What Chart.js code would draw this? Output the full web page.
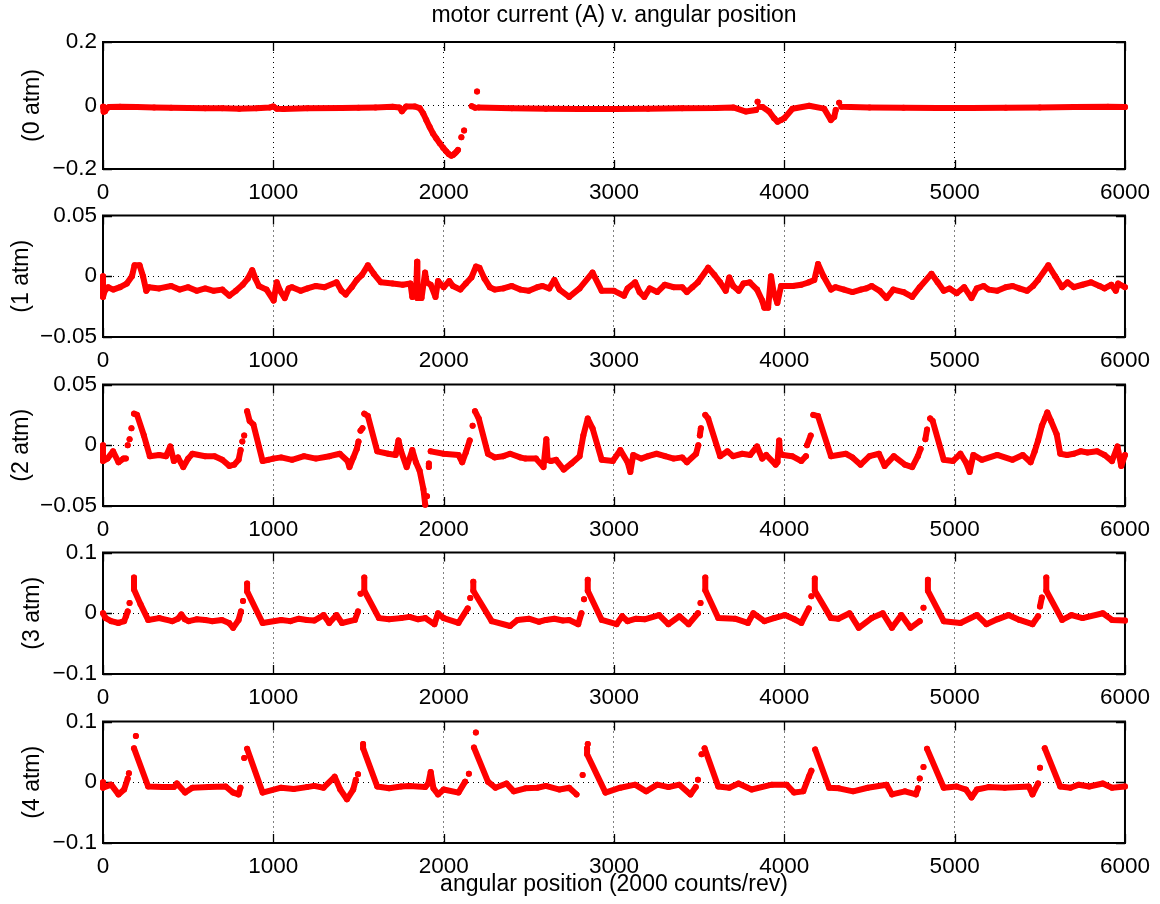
<!DOCTYPE html>
<html lang="en">
<head>
<meta charset="utf-8">
<title>motor current (A) v. angular position</title>
<script src="https://cdn.jsdelivr.net/npm/chart.js"></script>
<style>
  body { margin: 0; background: #fff; }
  #figure { position: relative; width: 1160px; height: 904px; overflow: hidden; }
  #figure canvas { position: absolute; left: 0; }
</style>
</head>
<body>
<div id="figure"></div>
<script>
// [position (counts), current (A)] readings per pressure; null = break in the trace
const trace0 = [
  [0, -0.004], [4, -0.02], [8, -0.006], [12, -0.018], [20, -0.01], [35, -0.005], [100, -0.004],
  [200, -0.005], [300, -0.006], [400, -0.007], [500, -0.008], [600, -0.009], [700, -0.009],
  [800, -0.01], [900, -0.009], [980, -0.006], [1000, -0.003], [1020, -0.01], [1060, -0.011],
  [1200, -0.009], [1400, -0.008], [1500, -0.007], [1600, -0.006], [1700, -0.004], [1740, -0.006],
  [1755, -0.018], [1780, -0.003], [1830, -0.003], [1859, -0.008], [1880, -0.025], [1898, -0.046],
  [1918, -0.068], [1937, -0.088], [1957, -0.104], [1977, -0.119], [1997, -0.133], [2016, -0.145],
  [2030, -0.153], [2045, -0.158], [2055, -0.156], [2065, -0.151], [2075, -0.146], [2084, -0.14],
  null, [2104, -0.1], null, [2120, -0.079], null,
  [2165, -0.002], [2185, -0.007], null, [2196, 0.044], null,
  [2205, -0.006], [2400, -0.009], [2600, -0.01], [2800, -0.011], [3000, -0.011], [3200, -0.01],
  [3400, -0.009], [3600, -0.008], [3700, -0.006], [3775, -0.019], [3834, -0.014], null,
  [3843, 0.012], null,
  [3855, -0.004], [3872, -0.005], [3911, -0.019], [3940, -0.04], [3960, -0.051], [3980, -0.046],
  [4000, -0.04], [4048, -0.01], [4146, -0.001], [4234, -0.01], [4273, -0.046], [4293, -0.036],
  [4302, -0.014], null, [4322, 0.009], null,
  [4335, -0.004], [4500, -0.006], [4700, -0.007], [4900, -0.008], [5100, -0.008], [5300, -0.007],
  [5500, -0.006], [5700, -0.005], [5900, -0.004], [6000, -0.005]
]

const trace1 = [
  [0, 0], [0, -0.017], [10, -0.012], [30, -0.009], [60, -0.011], [100, -0.009], [140, -0.006],
  [170, 0], [185, 0.009], [215, 0.009], [235, 0], [254, -0.012], [270, -0.009], [330, -0.01],
  [400, -0.008], [450, -0.011], [500, -0.009], [550, -0.012], [600, -0.01], [650, -0.012],
  [700, -0.011], [742, -0.016], [780, -0.012], [820, -0.007], [850, -0.002], [876, 0.005],
  [895, -0.002], [915, -0.008], [960, -0.011], [1002, -0.02], [1020, -0.005], [1040, -0.012],
  [1067, -0.018], [1090, -0.01], [1110, -0.009], [1160, -0.012], [1200, -0.01], [1250, -0.008],
  [1300, -0.009], [1371, -0.005],
  [1400, -0.012], [1425, -0.015], [1460, -0.009], [1490, -0.003], [1520, 0.001], [1555, 0.009],
  [1590, 0.002], [1631, -0.005], [1700, -0.006], [1760, -0.007], [1805, -0.006], [1816, -0.017],
  [1838, -0.016], [1844, 0.012], [1846, -0.018], [1870, -0.018], [1891, 0.003], [1900, -0.005],
  [1924, -0.007], [1952, -0.017], [1967, -0.004], [2000, -0.009], [2033, -0.004], [2054, -0.008],
  [2098, -0.011], [2130, -0.006], [2163, -0.001], [2190, 0.008], [2210, 0.007], [2240, -0.002],
  [2271, -0.009], [2300, -0.011], [2350, -0.01], [2400, -0.008], [2450, -0.011], [2500, -0.012],
  [2550, -0.009], [2580, -0.008], [2620, -0.01], [2650, -0.003],
  [2680, -0.011], [2737, -0.017], [2798, -0.01], [2874, 0.003], [2928, -0.012], [3000, -0.012],
  [3059, -0.016], [3080, -0.01], [3124, -0.005], [3150, -0.013], [3178, -0.017], [3210, -0.01],
  [3254, -0.013], [3298, -0.007], [3350, -0.009], [3400, -0.009], [3428, -0.013], [3460, -0.009],
  [3493, -0.005], [3553, 0.007], [3590, 0.001], [3623, -0.005], [3656, -0.012], [3677, -0.001],
  [3700, -0.008], [3732, -0.012], [3760, -0.006], [3797, -0.005], [3840, -0.011], [3870, -0.02],
  [3883, -0.026], [3905, -0.026], [3922, 0], [3937, -0.013], [3959, -0.022], [3981, -0.008],
  [4050, -0.008], [4100, -0.007], [4144, -0.005], [4176, -0.003], [4198, 0.01], [4230, 0],
  [4274, -0.011], [4300, -0.009], [4350, -0.011], [4400, -0.013], [4450, -0.011], [4480, -0.01],
  [4513, -0.008], [4560, -0.012], [4600, -0.018],
  [4640, -0.011], [4700, -0.013], [4751, -0.017], [4795, -0.009], [4864, 0.002], [4900, -0.005],
  [4936, -0.012], [4970, -0.01], [5012, -0.014], [5056, -0.009], [5099, -0.018], [5130, -0.01],
  [5170, -0.008], [5200, -0.011], [5250, -0.012], [5300, -0.009], [5340, -0.008], [5380, -0.01],
  [5425, -0.012], [5460, -0.008], [5490, -0.003],
  [5550, 0.009], [5590, 0], [5630, -0.009], [5663, -0.005], [5700, -0.009], [5750, -0.007],
  [5800, -0.005], [5850, -0.008], [5880, -0.01],
  [5920, -0.007], [5946, -0.012], [5960, -0.006], [6000, -0.009]
]

const trace2 = [
  [0, 0], [0, -0.013], [26, -0.011], [59, -0.005], [91, -0.014], [120, -0.011], [134, -0.011],
  null, [145, 0], null, [156, 0.005], null, [167, 0.014], null,
  [182, 0.026], [200, 0.025], [240, 0.008], [275, -0.009], [330, -0.008], [370, -0.009],
  [395, -0.001], [416, -0.013], [440, -0.01], [471, -0.018], [500, -0.011], [525, -0.007],
  [600, -0.009], [655, -0.009], [700, -0.012], [742, -0.017], [770, -0.016], [796, -0.012],
  [808, -0.004], null, [818, 0.003], null, [829, 0.008], null,
  [846, 0.028], [861, 0.02], [883, 0.017], [937, -0.013], [970, -0.012], [1000, -0.011],
  [1046, -0.01], [1110, -0.012], [1180, -0.009], [1250, -0.011], [1330, -0.009], [1390, -0.007],
  [1436, -0.013], [1447, -0.018], [1470, -0.01],
  [1490, -0.003], [1500, 0.003], null, [1512, 0.012], [1523, 0.014], null,
  [1534, 0.026], [1555, 0.024], [1610, -0.005], [1675, -0.007], [1718, -0.008], [1735, 0.004],
  [1750, -0.005], [1783, -0.018], [1816, -0.004], [1837, -0.014], [1859, -0.021], [1881, -0.036],
  [1892, -0.049], null, [1902, -0.042], null, [1913, -0.018], [1913, -0.015], null,
  [1924, -0.005], [2000, -0.007], [2087, -0.008], [2109, -0.014], [2130, -0.006], [2153, 0.004],
  null, [2170, 0.016], null,
  [2184, 0.028], [2206, 0.022], [2260, -0.007], [2300, -0.01], [2350, -0.009], [2390, -0.007],
  [2450, -0.01], [2480, -0.011], [2542, -0.011],
  [2586, -0.018], [2603, 0.005], [2610, -0.012], [2629, -0.013], [2660, -0.012], [2705, -0.02],
  [2750, -0.015], [2798, -0.009], [2820, 0.008], [2846, 0.022], [2874, 0.014], [2928, -0.012],
  [2993, -0.013], [3037, -0.004], [3080, -0.014], [3096, -0.022], [3113, -0.008], [3160, -0.011],
  [3200, -0.009], [3250, -0.007], [3300, -0.009], [3350, -0.011], [3400, -0.01], [3428, -0.014],
  [3482, -0.007], [3495, 0], null,
  [3504, 0.008], [3510, 0.014], null,
  [3536, 0.025], [3553, 0.022], [3623, -0.009], [3666, -0.005], [3700, -0.009], [3753, -0.007],
  [3800, -0.008], [3840, -0.001], [3870, -0.011], [3894, -0.008], [3949, -0.016], [3960, -0.014],
  [3970, 0.004], [3975, -0.006], [3992, -0.008], [4046, -0.009], [4100, -0.013], [4127, -0.009],
  null, [4133, 0], [4155, 0.008], null,
  [4170, 0.025], [4198, 0.024], [4274, -0.009], [4361, -0.007], [4400, -0.01], [4448, -0.016],
  [4500, -0.009], [4556, -0.007], [4589, -0.017], [4643, -0.009], [4708, -0.016], [4751, -0.018],
  [4784, -0.009], [4800, -0.003], null, [4828, 0.005], [4838, 0.013], null,
  [4856, 0.022], [4871, 0.02], [4936, -0.012], [4990, -0.013], [5034, -0.007], [5066, -0.014],
  [5088, -0.022], [5110, -0.008], [5160, -0.012], [5250, -0.008], [5340, -0.012], [5400, -0.008],
  [5446, -0.014],
  [5470, -0.005], [5490, 0.004], [5512, 0.016], [5530, 0.022], [5544, 0.027], [5566, 0.02],
  [5599, 0.009], [5620, -0.007], [5660, -0.008], [5700, -0.007], [5740, -0.005], [5780, -0.006],
  [5837, -0.005], [5880, -0.008],
  [5924, -0.013], [5956, -0.001], [5978, -0.017], [6000, -0.008]
]

const trace3 = [
  [0, 0], [15, -0.008], [48, -0.013], [91, -0.016], [124, -0.013], [135, -0.005], [145, 0.003],
  null, [156, 0.017], null,
  [182, 0.059], [182, 0.039], [220, 0.015], [265, -0.011], [330, -0.008], [406, -0.013],
  [440, -0.009], [460, -0.002], [480, -0.01], [503, -0.013], [550, -0.01], [600, -0.011],
  [640, -0.013], [698, -0.011],
  [740, -0.016], [764, -0.024], [796, -0.011], [810, 0.003], null, [822, 0.02], null,
  [846, 0.049], [846, 0.036], [937, -0.016], [1046, -0.011], [1100, -0.013], [1150, -0.009],
  [1197, -0.011], [1240, -0.012], [1295, -0.003],
  [1328, -0.016], [1371, -0.003], [1403, -0.016], [1479, -0.011], [1497, 0.003], null,
  [1512, 0.032], null,
  [1534, 0.059], [1534, 0.037], [1620, -0.008], [1680, -0.01], [1750, -0.008], [1800, -0.006],
  [1850, -0.01], [1892, -0.008], [1946, -0.018],
  [1967, 0], [2000, -0.008], [2087, -0.016], [2141, 0.008], null, [2156, 0.025], null,
  [2174, 0.052], [2174, 0.037], [2282, -0.013], [2390, -0.021], [2434, -0.011], [2500, -0.009],
  [2560, -0.014], [2600, -0.011], [2650, -0.009], [2700, -0.012],
  [2737, -0.011], [2790, -0.018], [2809, 0], null, [2824, 0.023], null,
  [2846, 0.055], [2846, 0.037], [2928, -0.011], [3015, -0.018], [3048, -0.005], [3080, -0.013],
  [3130, -0.009], [3180, -0.01], [3265, -0.003], [3319, -0.018], [3384, -0.005], [3438, -0.018],
  [3493, 0], null, [3508, 0.017], null,
  [3536, 0.059], [3536, 0.038], [3612, -0.008], [3710, -0.009], [3786, -0.016], [3818, 0],
  [3883, -0.013], [3940, -0.008], [4003, -0.003], [4060, -0.01], [4100, -0.016], [4144, 0.008],
  null, [4159, 0.028], null,
  [4179, 0.057], [4179, 0.037], [4274, -0.008], [4317, -0.009], [4383, 0], [4437, -0.024],
  [4513, -0.008], [4578, 0], [4632, -0.024], [4687, -0.003], [4741, -0.024], [4795, -0.013],
  null, [4817, 0.009], null,
  [4843, 0.055], [4843, 0.037], [4936, -0.013], [5034, -0.016], [5131, -0.003], [5186, -0.018],
  [5250, -0.01], [5316, -0.003], [5381, -0.011], [5457, -0.018], [5490, -0.005], null,
  [5501, 0.011], [5512, 0.026], null,
  [5538, 0.059], [5538, 0.037], [5631, -0.011], [5686, -0.003], [5751, -0.008], [5870, 0],
  [5924, -0.011], [6000, -0.012]
]

const trace4 = [
  [0, 0], [0, -0.009], [48, -0.004], [91, -0.02], [124, -0.012], [145, 0.006], null,
  [152, 0.015], null, [193, 0.076], null,
  [182, 0.056], [265, -0.007], [350, -0.008], [416, -0.008], [434, -0.002], [482, -0.017],
  [525, -0.009], [620, -0.008], [720, -0.007], [764, -0.017], [796, -0.02], [807, -0.009], null,
  [829, 0.04], null,
  [846, 0.055], [937, -0.017], [1046, -0.009], [1120, -0.011], [1197, -0.008], [1240, -0.006],
  [1295, -0.009], [1360, 0.009],
  [1393, -0.012], [1432, -0.028], [1469, -0.012], [1484, 0.004], null, [1497, 0.013], null,
  [1527, 0.063], [1527, 0.056], [1610, -0.007], [1680, -0.01], [1750, -0.007], [1800, -0.006],
  [1892, -0.008], [1910, -0.002],
  [1924, 0.017], [1940, -0.01], [1967, -0.02], [2000, -0.012], [2087, -0.017], [2126, 0.001],
  null, [2148, 0.014], null, [2189, 0.082], null,
  [2178, 0.057], [2260, 0.001], [2304, -0.009], [2369, -0.002], [2412, -0.015], [2480, -0.01],
  [2550, -0.009], [2600, -0.006], [2680, -0.012],
  [2737, -0.009], [2780, -0.02], null, [2816, 0.012], null, [2846, 0.063], null,
  [2842, 0.056], [2842, 0.046], [2950, -0.017], [3037, -0.009], [3124, -0.004], [3189, -0.015],
  [3254, -0.004], [3320, -0.008], [3384, -0.004], [3449, -0.02], [3480, -0.008], null,
  [3493, 0.004], null, [3514, 0.046], null,
  [3532, 0.056], [3612, -0.007], [3677, -0.009], [3731, -0.002], [3808, -0.012], [3927, -0.004],
  [4014, -0.004], [4057, -0.017], [4111, -0.015], [4144, 0.009], [4159, 0.019], null,
  [4181, 0.054], [4263, -0.009], [4320, -0.01], [4404, -0.015], [4490, -0.009], [4600, -0.004],
  [4632, -0.02],
  [4708, -0.015], [4773, -0.02], [4785, -0.01], null, [4795, 0.006], null, [4817, 0.025], null,
  [4838, 0.055], [4936, -0.009], [5012, -0.007], [5066, -0.012], [5099, -0.025], [5131, -0.012],
  [5200, -0.008], [5294, -0.009], [5435, -0.007], [5457, -0.02], [5490, -0.002], null,
  [5501, 0.024], null,
  [5529, 0.056], [5620, -0.007], [5680, -0.009], [5729, -0.004], [5790, -0.007], [5870, -0.002],
  [5924, -0.009], [6000, -0.007]
]

const traces = [trace0, trace1, trace2, trace3, trace4]
const pressureLabels = ['(0 atm)', '(1 atm)', '(2 atm)', '(3 atm)', '(4 atm)']
const yLimits = [0.2, 0.05, 0.05, 0.1, 0.1]
const xMin = 0
const xMax = 6000
const xStep = 1000
const figTitle = 'motor current (A) v. angular position'
const xLabel = 'angular position (2000 counts/rev)'

// page layout, px
const panelTops = [42, 210, 379, 547, 716]
const panelHeight = 127
const plotLeft = 103
const plotRight = 1126
const pageWidth = 1160
const ylabelPad = [19, 8, 8, 19, 19]

const FONT = "'Liberation Sans', Arial, Helvetica, sans-serif"
const TICK_SIZE = 22.5
const TEXT_SIZE = 23
Chart.defaults.font.family = FONT
Chart.defaults.font.size = TICK_SIZE
Chart.defaults.color = '#000'

function fmtTick(v) {
  const s = String(+Math.abs(v).toFixed(3))
  return v < -1e-9 ? '\u2212' + s : s
}

// box round the axes with inward tick marks on all four sides
const axesBox = {
  id: 'axesBox',
  beforeDatasetsDraw(chart) {
    const { ctx, chartArea: a, scales } = chart
    const len = 9
    ctx.save()
    ctx.strokeStyle = '#000'
    ctx.lineWidth = 1.3
    ctx.beginPath()
    scales.x.ticks.forEach(t => {
      const px = Math.round(scales.x.getPixelForValue(t.value)) + 0.5
      ctx.moveTo(px, a.bottom); ctx.lineTo(px, a.bottom - len)
      ctx.moveTo(px, a.top); ctx.lineTo(px, a.top + len)
    })
    scales.y.ticks.forEach(t => {
      const py = Math.round(scales.y.getPixelForValue(t.value)) + 0.5
      ctx.moveTo(a.left, py); ctx.lineTo(a.left + len, py)
      ctx.moveTo(a.right, py); ctx.lineTo(a.right - len, py)
    })
    ctx.stroke()
    ctx.lineWidth = 2
    ctx.strokeRect(a.left, a.top, a.right - a.left, a.bottom - a.top)
    ctx.restore()
  }
}

const figure = document.getElementById('figure')

traces.forEach((trace, i) => {
  const first = i === 0
  const last = i === traces.length - 1
  const padTop = first ? 0 : 14
  const axisHeight = last ? 60 : 40
  const top = panelTops[i] - (first ? 42 : padTop)
  const height = panelTops[i] + panelHeight + axisHeight - top
  const lim = yLimits[i]

  const canvas = document.createElement('canvas')
  canvas.width = pageWidth
  canvas.height = height
  canvas.style.top = top + 'px'
  figure.appendChild(canvas)

  const points = trace.map(p => (p ? { x: p[0], y: p[1] } : { x: null, y: null }))

  new Chart(canvas, {
    type: 'scatter',
    data: {
      datasets: [{
        data: points,
        showLine: true,
        spanGaps: false,
        borderColor: '#ff0000',
        backgroundColor: '#ff0000',
        borderWidth: 6,
        borderCapStyle: 'round',
        borderJoinStyle: 'round',
        pointRadius: 3,
        pointBorderWidth: 0,
        pointHoverRadius: 0,
        clip: 3
      }]
    },
    options: {
      responsive: false,
      animation: false,
      devicePixelRatio: 1,
      events: [],
      layout: { padding: { top: padTop, right: pageWidth - plotRight, bottom: 0, left: 0 } },
      plugins: {
        legend: { display: false },
        tooltip: { enabled: false },
        title: {
          display: first,
          text: figTitle,
          fullSize: false,
          color: '#000',
          font: { size: TEXT_SIZE, weight: 'normal', lineHeight: 1.2 },
          padding: { top: 2, bottom: 12.4 }
        }
      },
      scales: {
        x: {
          type: 'linear',
          min: xMin,
          max: xMax,
          ticks: {
            stepSize: xStep,
            autoSkip: false,
            maxRotation: 0,
            padding: 10,
            font: { size: TICK_SIZE, lineHeight: 1.2 },
            callback: v => String(v)
          },
          grid: { color: '#000', lineWidth: 1, drawTicks: false, borderDash: [1, 4] },
          border: { display: false, dash: [1, 4] },
          title: {
            display: last,
            text: xLabel,
            font: { size: TEXT_SIZE, lineHeight: 1.2 },
            padding: { top: 0, bottom: 4.5 }
          },
          afterFit(scale) { scale.height = axisHeight }
        },
        y: {
          type: 'linear',
          min: -lim,
          max: lim,
          ticks: {
            stepSize: lim,
            autoSkip: false,
            padding: 6,
            font: { size: TICK_SIZE, lineHeight: 1.2 },
            callback: v => fmtTick(v)
          },
          grid: { color: '#000', lineWidth: 1, drawTicks: false, borderDash: [1, 4] },
          border: { display: false, dash: [1, 4] },
          title: {
            display: true,
            text: pressureLabels[i],
            font: { size: TEXT_SIZE, lineHeight: 1.2 },
            padding: { top: ylabelPad[i], bottom: 0 }
          },
          afterFit(scale) { scale.width = plotLeft }
        }
      }
    },
    plugins: [axesBox]
  })
})
</script>
</body>
</html>
